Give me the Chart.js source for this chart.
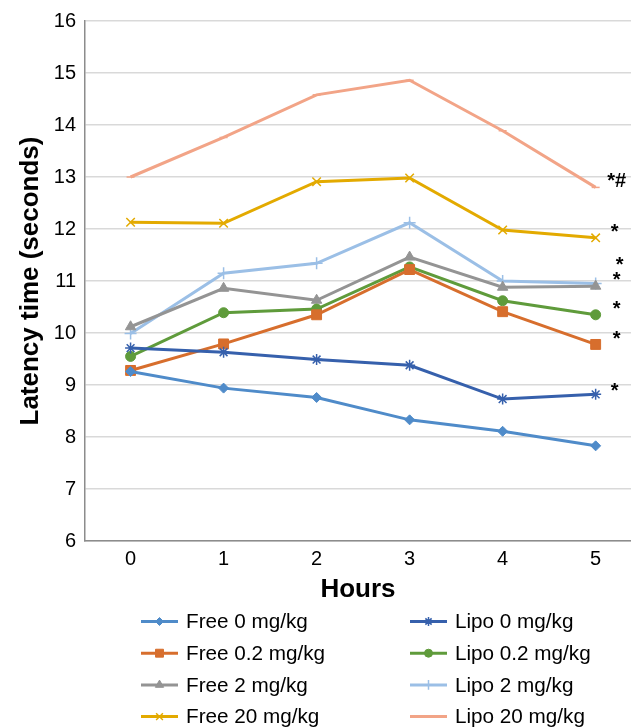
<!DOCTYPE html>
<html>
<head>
<meta charset="utf-8">
<script src="https://cdn.jsdelivr.net/npm/chart.js@4/dist/chart.umd.min.js"></script>
<style>
html,body{margin:0;padding:0;background:#fff;overflow:hidden;}
#wrap{width:631px;height:728px;position:relative;overflow:hidden;}
</style>
</head>
<body>
<div id="wrap"><canvas id="c" width="639" height="728"></canvas></div>
<script>
// ---- data ----
const hours = [0, 1, 2, 3, 4, 5];
const yTicks = [6, 7, 8, 9, 10, 11, 12, 13, 14, 15, 16];

const free0   = [9.26, 8.94, 8.76, 8.33, 8.11, 7.83];
const lipo0   = [9.71, 9.63, 9.49, 9.38, 8.73, 8.82];
const free02  = [9.28, 9.79, 10.35, 11.22, 10.41, 9.78];
const lipo02  = [9.55, 10.39, 10.46, 11.27, 10.62, 10.35];
const free2   = [10.12, 10.86, 10.63, 11.46, 10.88, 10.90];
const lipo2   = [9.99, 11.15, 11.34, 12.12, 11.00, 10.95];
const free20  = [12.13, 12.11, 12.91, 12.98, 11.98, 11.83];
const lipo20  = [13.00, 13.76, 14.58, 14.86, 13.89, 12.80];

const seriesLabels = ['Free 0 mg/kg','Lipo 0 mg/kg','Free 0.2 mg/kg','Lipo 0.2 mg/kg',
                      'Free 2 mg/kg','Lipo 2 mg/kg','Free 20 mg/kg','Lipo 20 mg/kg'];

// significance annotations beside the 5 h values
const annoText = ['*#', '*', '*', '*', '*', '*', '*'];
const annoY    = [12.96, 11.98, 11.35, 11.06, 10.50, 9.92, 8.92];

// ---- styling ----
const seriesValues = [free0, lipo0, free02, lipo02, free2, lipo2, free20, lipo20];
const colors = ['#4f8bc9','#3660ac','#d76e2d','#5f9b3b','#949494','#9bbfe6','#e3aa00','#f2a487'];
const styles = ['rectRot','star','rect','circle','triangle','cross','crossRot','line'];
const radii  = [5, 5.5, 7, 5, 6, 6, 6, 4];
const bws    = [1, 1.5, 1, 1, 1, 1.5, 1.5, 1.5];
const annoDx = [0, -2, 3, 0, 0, 0, -2];

const datasets = seriesValues.map((vals, i) => ({
  label: seriesLabels[i],
  data: vals.map((v, j) => ({x: hours[j], y: v})),
  borderColor: colors[i],
  backgroundColor: colors[i],
  pointBackgroundColor: colors[i],
  pointBorderColor: colors[i],
  pointStyle: styles[i],
  pointRadius: radii[i],
  pointBorderWidth: bws[i],
  borderWidth: 3,
  tension: 0,
  fill: false
}));
const FONT = "'Liberation Sans', Arial, sans-serif";

const extras = {
  id: 'extras',
  afterDraw(chart) {
    const ctx = chart.ctx;
    const xs = chart.scales.x, ys = chart.scales.y;
    ctx.save();
    // annotations
    ctx.fillStyle = '#000';
    ctx.font = 'bold 20px ' + FONT;
    ctx.textAlign = 'center';
    ctx.textBaseline = 'alphabetic';
    annoText.forEach((t, i) => {
      const px = xs.getPixelForValue(hours[hours.length - 1]) + 21 + annoDx[i];
      const py = ys.getPixelForValue(annoY[i]) + 8;
      ctx.fillText(t, px, py);
    });
    // legend (2 columns)
    const ds = chart.data.datasets;
    ds.forEach((d, i) => {
      const col = i % 2, row = Math.floor(i / 2);
      const x0 = col === 0 ? 141 : 410;
      const y = 621.5 + row * 31.7;
      ctx.strokeStyle = d.borderColor;
      ctx.lineWidth = 3;
      ctx.beginPath();
      ctx.moveTo(x0, y);
      ctx.lineTo(x0 + 37, y);
      ctx.stroke();
      ctx.fillStyle = d.pointBackgroundColor;
      ctx.strokeStyle = d.pointBorderColor;
      ctx.lineWidth = d.pointBorderWidth;
      if (d.pointStyle !== 'line') {
        Chart.helpers.drawPoint(ctx, {pointStyle: d.pointStyle, radius: d.pointRadius * 0.8, rotation: 0, borderWidth: d.pointBorderWidth}, x0 + 18.5, y);
      }
      ctx.fillStyle = '#000';
      ctx.font = '20.7px ' + FONT;
      ctx.textAlign = 'left';
      ctx.textBaseline = 'middle';
      ctx.fillText(d.label, x0 + 45, y + 1);
    });
    ctx.restore();
  }
};

new Chart(document.getElementById('c'), {
  type: 'line',
  data: { datasets },
  options: {
    responsive: false,
    animation: false,
    devicePixelRatio: 1,
    layout: { padding: { top: 21, right: 0, left: 0, bottom: 122 } },
    plugins: { legend: { display: false }, tooltip: { enabled: false } },
    scales: {
      x: {
        type: 'linear',
        min: -0.49,
        max: 5.38,
        afterBuildTicks(s) { s.ticks = hours.map(h => ({value: h})); },
        afterFit(s) { s.height = 65; },
        grid: { display: false, drawTicks: false },
        border: { display: true, color: '#8c8c8c', width: 1.5 },
        ticks: { color: '#000', font: { size: 20, family: FONT }, padding: 6, maxRotation: 0 },
        title: { display: true, text: 'Hours', color: '#000',
                 font: { size: 26, weight: 'bold', family: FONT }, padding: { top: 0, bottom: 1 } }
      },
      y: {
        min: 6,
        max: 16,
        afterBuildTicks(s) { s.ticks = yTicks.map(v => ({value: v})); },
        afterFit(s) { s.width = 85; },
        grid: { color: '#d9d9d9', lineWidth: 1.5, drawTicks: false },
        border: { display: true, color: '#8c8c8c', width: 1.5 },
        ticks: { color: '#000', font: { size: 20, family: FONT }, padding: 9 },
        title: { display: true, text: 'Latency time (seconds)', color: '#000',
                 font: { size: 26, weight: 'bold', family: FONT }, padding: { top: 15, bottom: 0 } }
      }
    }
  },
  plugins: [extras]
});
</script>
</body>
</html>
